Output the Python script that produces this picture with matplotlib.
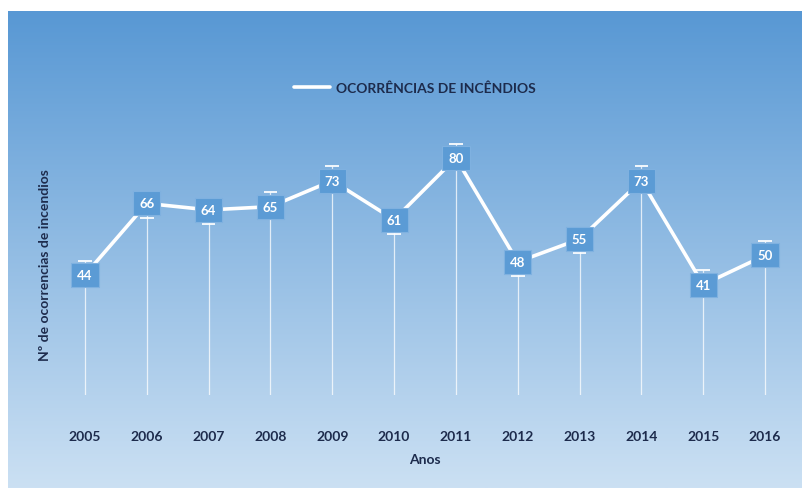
import numpy as np
import matplotlib
matplotlib.use('Agg')
import matplotlib.pyplot as plt

plt.rcParams['font.family'] = ['Lato', 'DejaVu Sans']

years = [2005, 2006, 2007, 2008, 2009, 2010, 2011, 2012, 2013, 2014, 2015, 2016]
ocorrencias = [44, 66, 64, 65, 73, 61, 80, 48, 55, 73, 41, 50]
# side of the little cap drawn on each drop line (+1 above the label, -1 below)
cap_side = [1, -1, -1, 1, 1, -1, 1, -1, -1, 1, 1, 1]

serie_nome = 'OCORRÊNCIAS DE INCÊNDIOS'
x_label = 'Anos'
y_label = 'Nº de ocorrencias de incendios'

W, H = 802, 489
dark = '#1d2b4c'
box_blue = '#5b9bd5'

fig = plt.figure(figsize=(W / 100, H / 100), dpi=100)
fig.patch.set_facecolor('white')

# gradient panel behind the chart
bg = fig.add_axes([8 / W, 0, 1 - 8 / W, 1 - 12 / H], zorder=0)
grad = np.linspace(0, 1, 256).reshape(-1, 1)
top = np.array([0x58, 0x98, 0xd4]) / 255
bot = np.array([0xcb, 0xe0, 0xf3]) / 255
img = top + (bot - top) * grad[..., None]
bg.imshow(img, aspect='auto', extent=[0, 1, 0, 1], origin='upper')
bg.set_axis_off()

# chart axes
ax = fig.add_axes([55 / W, 1 - 396 / H, 740 / W, 276 / H], zorder=1)
ax.patch.set_alpha(0)
ax.set_xlim(2004.515, 2016.485)
ax.set_ylim(7, 92)

ymin = ax.get_ylim()[0]
cap_off = 4.4
for x, v, s in zip(years, ocorrencias, cap_side):
    cap_y = v + s * cap_off
    ax.vlines(x, ymin, max(v, cap_y), color='white', linewidth=0.9, alpha=0.75, zorder=2)
    ax.hlines(cap_y, x - 0.11, x + 0.11, color='white', linewidth=1.4, alpha=0.9, zorder=2)

ax.plot(years, ocorrencias, color='white', linewidth=2.6, solid_capstyle='round',
        label=serie_nome, zorder=3)

for x, v in zip(years, ocorrencias):
    ax.text(x, v, str(v), ha='center', va='center', color='white', fontsize=9.5,
            fontweight='bold', zorder=4,
            bbox=dict(boxstyle='square,pad=0.45', facecolor=box_blue,
                      edgecolor='#7fb1e0', linewidth=0.8))

ax.set_xticks(years)
ax.set_xticklabels([str(y) for y in years], fontsize=10, fontweight='bold', color=dark)
ax.tick_params(axis='x', length=0, pad=25)
ax.set_yticks([])
for sp in ax.spines.values():
    sp.set_visible(False)

ax.set_xlabel(x_label, fontsize=10, fontweight='bold', color=dark, labelpad=8)
fig.text(45 / W, 1 - 265 / H, y_label, rotation=90, ha='center', va='center',
         fontsize=10, fontweight='bold', color=dark)

leg = fig.legend(loc='center', bbox_to_anchor=(415 / W, 1 - 89 / H), frameon=False,
                 handlelength=2.6, handletextpad=0.4, fontsize=10)
for t in leg.get_texts():
    t.set_color(dark)
    t.set_fontweight('bold')

fig.savefig('out.png', dpi=100, facecolor=fig.get_facecolor())
